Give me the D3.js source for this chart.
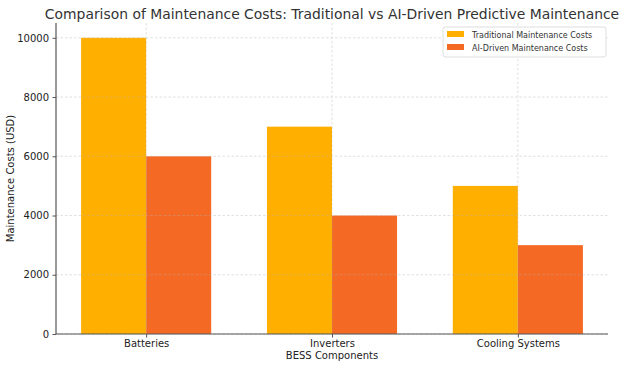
<!DOCTYPE html>
<html>
<head>
    <meta charset="utf-8" />
    <style>
    body { margin: 0; background: #fff; }
    svg, svg text { font-family: "DejaVu Sans", sans-serif; }
    .grid line { stroke: #b0b0b0; stroke-dasharray: 2.5,2; stroke-width: 0.7; }
    </style>
</head>
<body>
    <svg id="chart" width="619" height="366"></svg>
    <script src="https://d3js.org/d3.v7.min.js"></script>
    <script>
        // data
        var components = ["Batteries", "Inverters", "Cooling Systems"];
        var traditionalCosts = [10000, 7000, 5000];
        var aiCosts = [6000, 4000, 3000];
        var yTicks = [0, 2000, 4000, 6000, 8000, 10000];
        var seriesNames = ["Traditional Maintenance Costs", "AI-Driven Maintenance Costs"];
        var seriesColors = ["#ffaf00", "#f46a25"];

        var margin = {left: 56, right: 11, top: 23, bottom: 32};
        var W = 619, H = 366;
        var svg = d3.select("#chart");

        var barW = 0.35;
        // linear x like matplotlib, with 5% margins
        var x = d3.scaleLinear()
            .domain([-barW - 0.135, components.length - 1 + barW + 0.135])
            .range([margin.left, W - margin.right]);
        var y = d3.scaleLinear()
            .domain([0, 10500])
            .range([H - margin.bottom, margin.top]);

        // bars
        var series = [traditionalCosts, aiCosts];
        series.forEach(function(vals, s) {
            svg.append("g").selectAll("rect")
                .data(vals)
                .enter().append("rect")
                .attr("x", function(d, i) { return x(i + (s === 0 ? -barW : 0)); })
                .attr("width", function(d, i) { return x(barW) - x(0); })
                .attr("y", function(d) { return y(d); })
                .attr("height", function(d) { return y(0) - y(d); })
                .attr("fill", seriesColors[s]);
        });

        // grid (faint, drawn over bars)
        var grid = svg.append("g").attr("class", "grid").attr("opacity", 0.55);
        grid.selectAll(".h").data(yTicks).enter().append("line")
            .attr("x1", margin.left).attr("x2", W - margin.right)
            .attr("y1", function(d) { return y(d); })
            .attr("y2", function(d) { return y(d); });
        grid.selectAll(".v").data(components).enter().append("line")
            .attr("x1", function(d, i) { return x(i); })
            .attr("x2", function(d, i) { return x(i); })
            .attr("y1", margin.top).attr("y2", H - margin.bottom);

        // axes
        var yAxis = svg.append("g")
            .attr("transform", "translate(" + margin.left + ",0)")
            .call(d3.axisLeft(y).tickValues(yTicks).tickSize(3.5).tickPadding(3.5).tickFormat(d3.format("d")));
        var xAxis = svg.append("g")
            .attr("transform", "translate(0," + (H - margin.bottom) + ")")
            .call(d3.axisBottom(x).tickValues([0, 1, 2]).tickSize(3.5).tickPadding(2.5)
                .tickFormat(function(d) { return components[d]; }));
        [xAxis, yAxis].forEach(function(a) {
            a.attr("font-family", "DejaVu Sans").attr("font-size", 10);
            a.select(".domain").attr("stroke", "#555").attr("stroke-width", 1.2)
                .attr("d", a === yAxis
                    ? "M0," + margin.top + "V" + (H - margin.bottom)
                    : "M" + margin.left + ",0H" + (W - margin.right));
            a.selectAll(".tick line").attr("stroke", "#555");
            a.selectAll(".tick text").attr("fill", "#222");
        });

        // labels
        svg.append("text")
            .attr("x", (margin.left + W - margin.right) / 2).attr("y", 18.5)
            .attr("text-anchor", "middle").attr("fill", "#333")
            .style("font-size", "13.9px")
            .text("Comparison of Maintenance Costs: Traditional vs AI-Driven Predictive Maintenance");
        svg.append("text")
            .attr("x", (margin.left + W - margin.right) / 2).attr("y", 359)
            .attr("text-anchor", "middle").attr("fill", "#222")
            .style("font-size", "10px")
            .text("BESS Components");
        svg.append("text")
            .attr("transform", "translate(14," + ((margin.top + H - margin.bottom) / 2) + ") rotate(-90)")
            .attr("text-anchor", "middle").attr("fill", "#222")
            .style("font-size", "10px")
            .text("Maintenance Costs (USD)");

        // legend
        var lg = svg.append("g").attr("transform", "translate(443,27)");
        lg.append("rect").attr("width", 163).attr("height", 30).attr("rx", 2.5)
            .attr("fill", "#fff").attr("fill-opacity", 0.8)
            .attr("stroke", "#d6d6d6").attr("stroke-width", 0.8);
        seriesNames.forEach(function(name, i) {
            lg.append("rect").attr("x", 4).attr("y", 4 + i * 13).attr("width", 17).attr("height", 6)
                .attr("fill", seriesColors[i]);
            lg.append("text").attr("x", 29).attr("y", 10.5 + i * 13)
                .attr("fill", "#333").style("font-size", "8px").text(name);
        });
    </script>
</body>
</html>
